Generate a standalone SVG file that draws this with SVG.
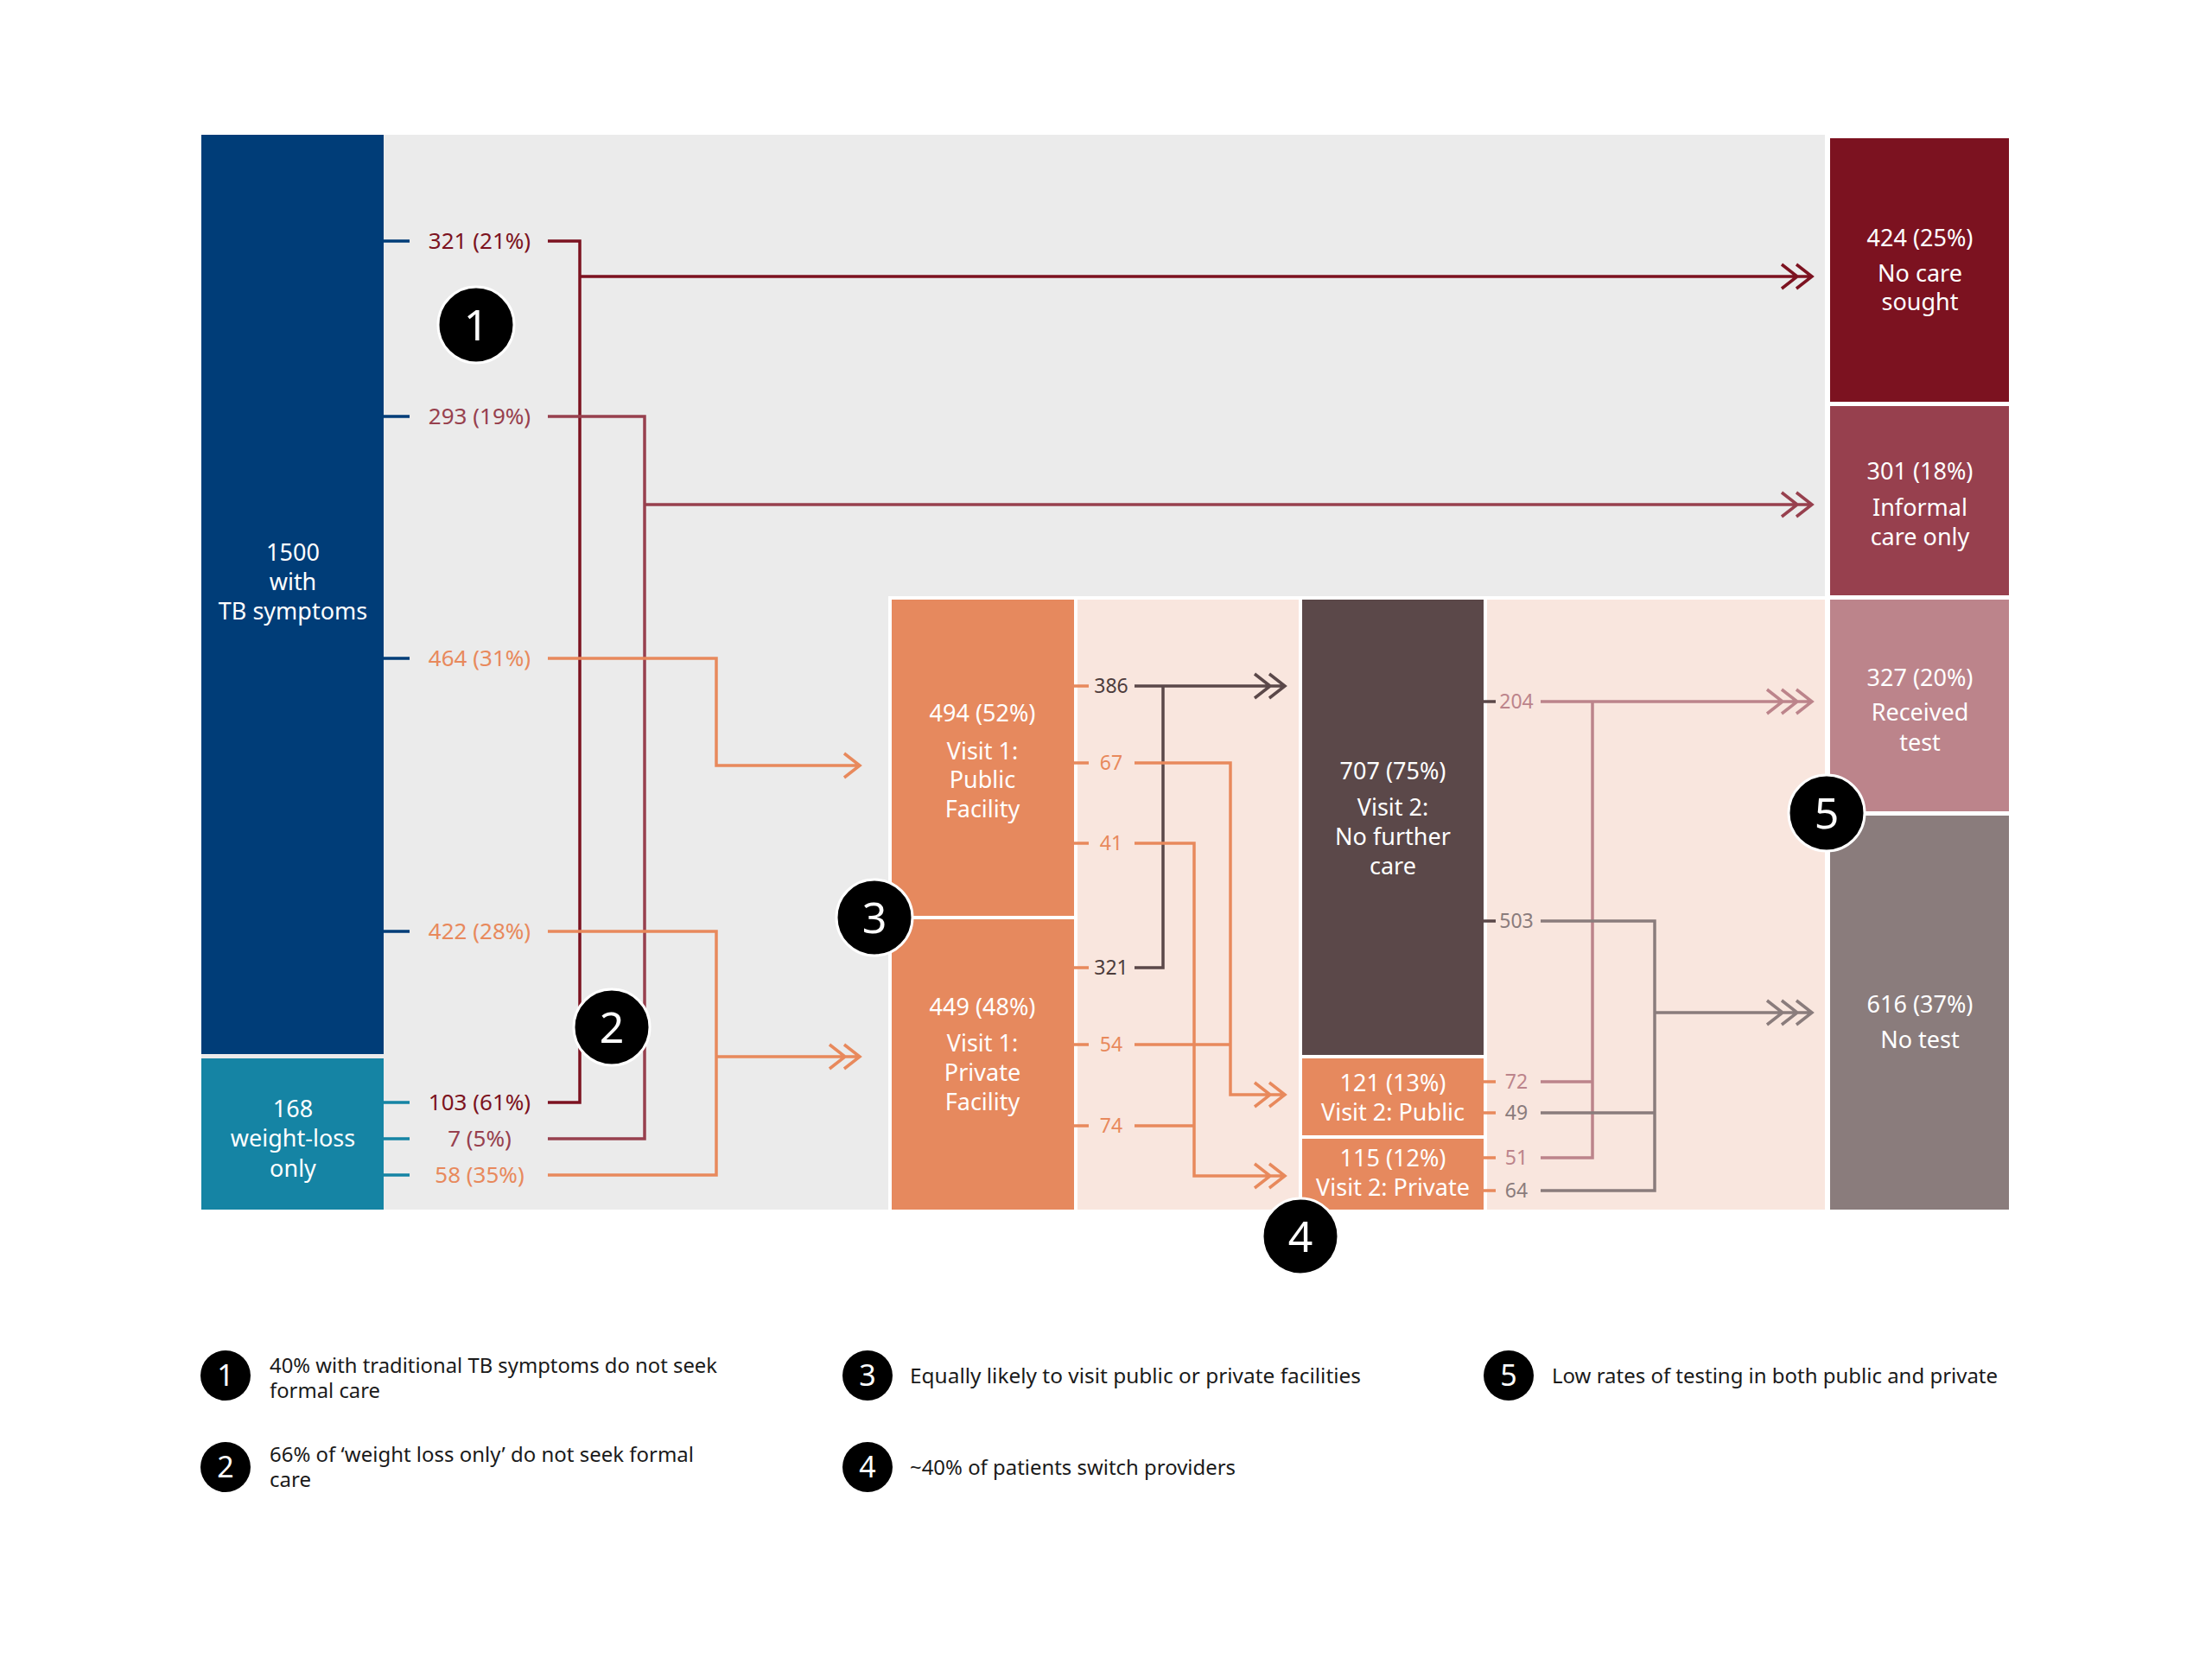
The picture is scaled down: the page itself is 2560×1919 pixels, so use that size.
<svg xmlns="http://www.w3.org/2000/svg" width="2560" height="1919" viewBox="0 0 2560 1919">
<style>
text{font-family:"Noto Sans","Open Sans","Liberation Sans",sans-serif;}
.bx{font-size:27px;fill:#fff;text-anchor:middle}
.sd{font-size:26px;text-anchor:middle}
.sm{font-size:23px;text-anchor:middle}
.ln{fill:none;stroke-width:3.5;stroke-linecap:butt;stroke-linejoin:miter}
.bd{fill:#000;stroke:#fff;stroke-width:3}
.bn{font-size:50px;fill:#fff;text-anchor:middle}
.lb{fill:#000}
.ln2{font-size:34px;fill:#fff;text-anchor:middle}
.lt{font-size:24px;fill:#1a1a1a}
.c1{stroke:#7c1220}.t1{fill:#7c1220}
.c2{stroke:#97404e}.t2{fill:#97404e}
.co{stroke:#e8895c}.to{fill:#e8895c}
.cd{stroke:#5b4849}.td{fill:#4d3c3c}
.cp{stroke:#bc848b}.tp{fill:#bc848b}
.cg{stroke:#8a7c7c}.tg{fill:#8a7c7c}
.cb{stroke:#003d78}.ct{stroke:#1584a4}
</style>
<rect width="2560" height="1919" fill="#fff"/>
<g id="background">
<rect x="233" y="156" width="1879" height="1244" fill="#ebebeb"/>
<rect x="1028" y="690" width="1084" height="710" fill="#fff"/>
<rect x="1247" y="694" width="256" height="706" fill="#f9e6de"/>
<rect x="1721" y="694" width="391" height="706" fill="#f9e6de"/>
</g>
<g id="node-tb">
<rect x="233" y="156" width="211" height="1064" fill="#003d78"/>
<text class="bx" x="339" y="649">1500</text>
<text class="bx" x="339" y="683">with</text>
<text class="bx" x="339" y="717">TB symptoms</text>
</g>
<g id="node-weightloss">
<rect x="233" y="1225" width="211" height="175" fill="#1584a4"/>
<text class="bx" x="339" y="1293">168</text>
<text class="bx" x="339" y="1327">weight-loss</text>
<text class="bx" x="339" y="1362">only</text>
</g>
<g id="node-public1">
<rect x="1032" y="694" width="211" height="366" fill="#e6895e"/>
<text class="bx" x="1137" y="835">494 (52%)</text>
<text class="bx" x="1137" y="879">Visit 1:</text>
<text class="bx" x="1137" y="912">Public</text>
<text class="bx" x="1137" y="946">Facility</text>
</g>
<g id="node-private1">
<rect x="1032" y="1064" width="211" height="336" fill="#e6895e"/>
<text class="bx" x="1137" y="1175">449 (48%)</text>
<text class="bx" x="1137" y="1217">Visit 1:</text>
<text class="bx" x="1137" y="1251">Private</text>
<text class="bx" x="1137" y="1285">Facility</text>
</g>
<g id="node-nofurther">
<rect x="1507" y="694" width="210" height="527" fill="#5b4849"/>
<text class="bx" x="1612" y="902">707 (75%)</text>
<text class="bx" x="1612" y="944">Visit 2:</text>
<text class="bx" x="1612" y="978">No further</text>
<text class="bx" x="1612" y="1012">care</text>
</g>
<g id="node-public2">
<rect x="1507" y="1225" width="210" height="89" fill="#e6895e"/>
<text class="bx" x="1612" y="1263">121 (13%)</text>
<text class="bx" x="1612" y="1297">Visit 2: Public</text>
</g>
<g id="node-private2">
<rect x="1507" y="1318" width="210" height="82" fill="#e6895e"/>
<text class="bx" x="1612" y="1350">115 (12%)</text>
<text class="bx" x="1612" y="1384">Visit 2: Private</text>
</g>
<g id="node-nocare">
<rect x="2118" y="160" width="207" height="305" fill="#7c1220"/>
<text class="bx" x="2222" y="285">424 (25%)</text>
<text class="bx" x="2222" y="326">No care</text>
<text class="bx" x="2222" y="359">sought</text>
</g>
<g id="node-informal">
<rect x="2118" y="470" width="207" height="219" fill="#97404e"/>
<text class="bx" x="2222" y="555">301 (18%)</text>
<text class="bx" x="2222" y="597">Informal</text>
<text class="bx" x="2222" y="631">care only</text>
</g>
<g id="node-received">
<rect x="2118" y="694" width="207" height="245" fill="#bc848b"/>
<text class="bx" x="2222" y="794">327 (20%)</text>
<text class="bx" x="2222" y="834">Received</text>
<text class="bx" x="2222" y="869">test</text>
</g>
<g id="node-notest">
<rect x="2118" y="944" width="207" height="456" fill="#8a7c7c"/>
<text class="bx" x="2222" y="1172">616 (37%)</text>
<text class="bx" x="2222" y="1213">No test</text>
</g>
<g id="connectors">
<path class="ln cb" d="M444,279H474M444,482H474M444,762H474M444,1078H474"/>
<path class="ln ct" d="M444,1276H474M444,1318H474M444,1360H474"/>
<path class="ln c1" d="M634,279H671V1276H634M671,320H2097M2079,306L2097,320L2079,334M2062,306L2080,320L2062,334"/>
<path class="ln c2" d="M634,482H746V1318H634M746,584H2097M2079,570L2097,584L2079,598M2062,570L2080,584L2062,598"/>
<path class="ln co" d="M634,762H829V886H995M977,872L995,886L977,900"/>
<path class="ln co" d="M634,1078H829V1360H634M829,1223H995M977,1209L995,1223L977,1237M960,1209L978,1223L960,1237"/>
<path class="ln co" d="M1243,794H1260M1243,883H1260M1243,976H1260M1243,1120H1260M1243,1209H1260M1243,1303H1260"/>
<path class="ln cd" d="M1313,794H1487M1346,794V1120H1313M1469,780L1487,794L1469,808M1452,780L1470,794L1452,808"/>
<path class="ln co" d="M1313,883H1424V1267H1487M1313,1209H1424M1469,1253L1487,1267L1469,1281M1452,1253L1470,1267L1452,1281"/>
<path class="ln co" d="M1313,976H1382V1361H1487M1313,1303H1382M1469,1347L1487,1361L1469,1375M1452,1347L1470,1361L1452,1375"/>
<path class="ln cd" d="M1717,812H1731M1717,1066H1731"/>
<path class="ln co" d="M1717,1252H1731M1717,1288H1731M1717,1340H1731M1717,1378H1731"/>
<path class="ln cp" d="M1783,812H2097M1843,812V1340H1783M1783,1252H1843M2079,798L2097,812L2079,826M2062,798L2080,812L2062,826M2045,798L2063,812L2045,826"/>
<path class="ln cg" d="M1783,1066H1915V1378H1783M1783,1288H1915M1915,1172H2097M2079,1158L2097,1172L2079,1186M2062,1158L2080,1172L2062,1186M2045,1158L2063,1172L2045,1186"/>
</g>
<g id="labels">
<text class="sd t1" x="555" y="288">321 (21%)</text>
<text class="sd t2" x="555" y="491">293 (19%)</text>
<text class="sd to" x="555" y="771">464 (31%)</text>
<text class="sd to" x="555" y="1087">422 (28%)</text>
<text class="sd t1" x="555" y="1285">103 (61%)</text>
<text class="sd t2" x="555" y="1327">7 (5%)</text>
<text class="sd to" x="555" y="1369">58 (35%)</text>
<text class="sm td" x="1286" y="802">386</text>
<text class="sm to" x="1286" y="891">67</text>
<text class="sm to" x="1286" y="984">41</text>
<text class="sm td" x="1286" y="1128">321</text>
<text class="sm to" x="1286" y="1217">54</text>
<text class="sm to" x="1286" y="1311">74</text>
<text class="sm tp" x="1755" y="820">204</text>
<text class="sm tg" x="1755" y="1074">503</text>
<text class="sm tp" x="1755" y="1260">72</text>
<text class="sm tg" x="1755" y="1296">49</text>
<text class="sm tp" x="1755" y="1348">51</text>
<text class="sm tg" x="1755" y="1386">64</text>
</g>
<g id="badge-1"><circle class="bd" cx="551" cy="376" r="44"/><text class="bn" x="551" y="394">1</text></g>
<g id="badge-2"><circle class="bd" cx="708" cy="1189" r="44"/><text class="bn" x="708" y="1207">2</text></g>
<g id="badge-3"><circle class="bd" cx="1012" cy="1062" r="44"/><text class="bn" x="1012" y="1080">3</text></g>
<g id="badge-4"><circle class="bd" cx="1505" cy="1431" r="44"/><text class="bn" x="1505" y="1449">4</text></g>
<g id="badge-5"><circle class="bd" cx="2114" cy="941" r="44"/><text class="bn" x="2114" y="959">5</text></g>
<g id="legend">
<g id="legend-1"><circle class="lb" cx="261" cy="1592" r="29"/><text class="ln2" x="261" y="1604">1</text>
<text class="lt" x="312" y="1589" textLength="518" lengthAdjust="spacingAndGlyphs">40% with traditional TB symptoms do not seek</text>
<text class="lt" x="312" y="1618" textLength="128" lengthAdjust="spacingAndGlyphs">formal care</text></g>
<g id="legend-2"><circle class="lb" cx="261" cy="1698" r="29"/><text class="ln2" x="261" y="1710">2</text>
<text class="lt" x="312" y="1692" textLength="491" lengthAdjust="spacingAndGlyphs">66% of ‘weight loss only’ do not seek formal</text>
<text class="lt" x="312" y="1721" textLength="48" lengthAdjust="spacingAndGlyphs">care</text></g>
<g id="legend-3"><circle class="lb" cx="1004" cy="1592" r="29"/><text class="ln2" x="1004" y="1604">3</text>
<text class="lt" x="1053" y="1601" textLength="522" lengthAdjust="spacingAndGlyphs">Equally likely to visit public or private facilities</text></g>
<g id="legend-4"><circle class="lb" cx="1004" cy="1698" r="29"/><text class="ln2" x="1004" y="1710">4</text>
<text class="lt" x="1053" y="1707" textLength="377" lengthAdjust="spacingAndGlyphs">~40% of patients switch providers</text></g>
<g id="legend-5"><circle class="lb" cx="1746" cy="1592" r="29"/><text class="ln2" x="1746" y="1604">5</text>
<text class="lt" x="1796" y="1601" textLength="516" lengthAdjust="spacingAndGlyphs">Low rates of testing in both public and private</text></g>
</g>
</svg>
